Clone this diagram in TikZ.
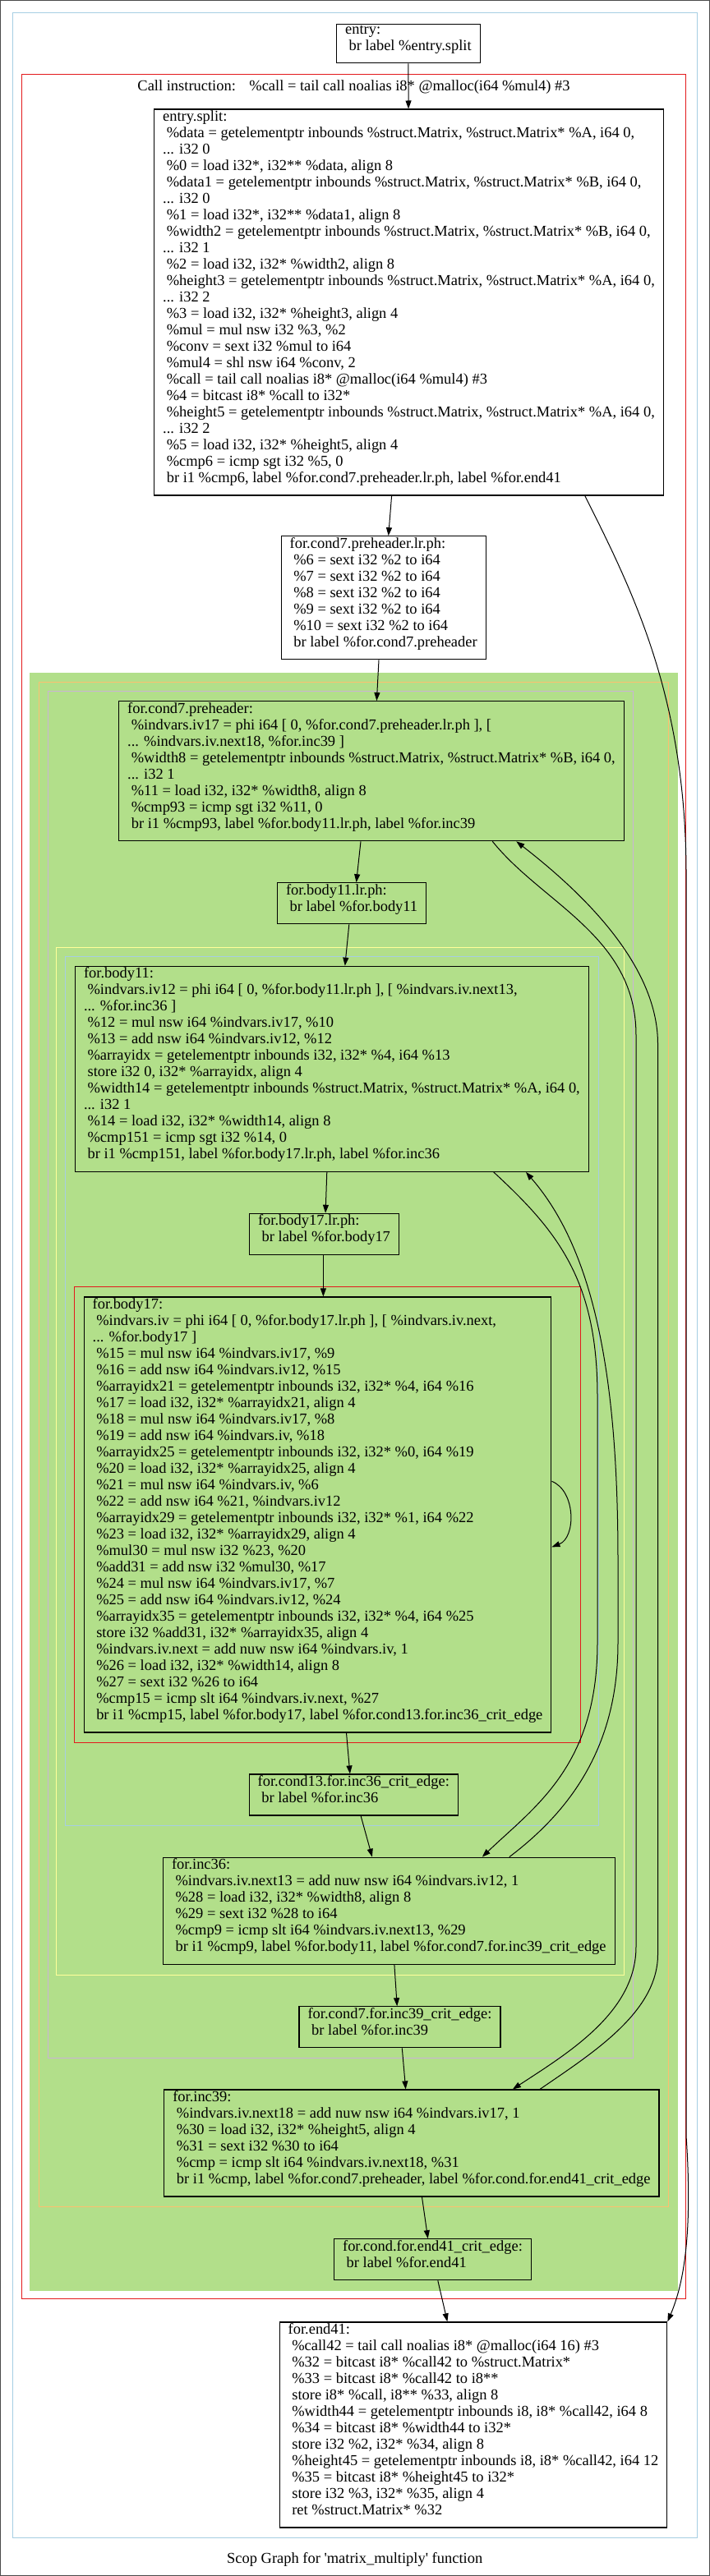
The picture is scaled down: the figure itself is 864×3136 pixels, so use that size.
\documentclass[tikz,border=0pt]{standalone}
\usepackage{fontspec}
\setmainfont{Liberation Serif}
\usetikzlibrary{arrows.meta}
\definecolor{scopblue}{HTML}{A6CEE3}
\definecolor{scopred}{HTML}{E31A1C}
\definecolor{scopgreen}{HTML}{B2DF8A}
\definecolor{scoporange}{HTML}{FDBF6F}
\definecolor{scoplilac}{HTML}{CAB2D6}
\definecolor{scopyellow}{HTML}{FFFF99}
\newcommand{\irfont}{\fontsize{18.45pt}{20pt}\selectfont}
\newcommand{\isp}{\hspace*{0.25em}}
\begin{document}
\begin{tikzpicture}[x=1pt,y=-1pt,
  block/.style={draw,line width=1.2pt,align=left,inner xsep=10.5pt,inner ysep=1.5pt,font=\irfont,
    execute at begin node=\rule{0pt}{14pt},execute at end node=\rule[-14pt]{0pt}{14pt}},
  region/.style={line width=1pt},
  flow/.style={line width=1pt,-{Triangle[length=10pt,width=7pt]}}]
\useasboundingbox (0,0) rectangle (864,3136);
\draw[black!70,line width=1pt] (0.5,0.5) rectangle (863.5,3135.5);
\draw[region,scopblue] (15.4,15.7) rectangle (848.5,3089);
\draw[region,scopred] (26.4,90.3) rectangle (834.7,2798.3);
\filldraw[region,draw=scopgreen,fill=scopgreen] (36.4,819.3) rectangle (824.8,2788.3);
\draw[region,scoporange] (47.9,830) rectangle (813.8,2686.3);
\draw[region,scoplilac] (58.4,841) rectangle (770.2,2505);
\draw[region,scopyellow] (68.9,1153.7) rectangle (759.8,2404);
\draw[region,scopblue] (79.9,1164) rectangle (728.4,2222);
\draw[region,scopred] (90.4,1566.3) rectangle (706.3,2121);

\node (reason) at (430.5,111) [anchor=base,font=\irfont] {Call instruction:\hspace{16.5pt}\%call = tail call noalias i8* @malloc(i64 \%mul4) \#3};
\node (caption) at (431.7,3120) [anchor=base,font=\irfont] {Scop Graph for \textquotesingle matrix\_multiply\textquotesingle{} function};

\node[block] (entry) at (496.9,53.2) {entry:\\ \isp br label \%entry.split};
\node[block] (split) at (497.5,368) {entry.split:\\
\isp\%data = getelementptr inbounds \%struct.Matrix, \%struct.Matrix* \%A, i64 0,\\
... i32 0\\
\isp\%0 = load i32*, i32** \%data, align 8\\
\isp\%data1 = getelementptr inbounds \%struct.Matrix, \%struct.Matrix* \%B, i64 0,\\
... i32 0\\
\isp\%1 = load i32*, i32** \%data1, align 8\\
\isp\%width2 = getelementptr inbounds \%struct.Matrix, \%struct.Matrix* \%B, i64 0,\\
... i32 1\\
\isp\%2 = load i32, i32* \%width2, align 8\\
\isp\%height3 = getelementptr inbounds \%struct.Matrix, \%struct.Matrix* \%A, i64 0,\\
... i32 2\\
\isp\%3 = load i32, i32* \%height3, align 4\\
\isp\%mul = mul nsw i32 \%3, \%2\\
\isp\%conv = sext i32 \%mul to i64\\
\isp\%mul4 = shl nsw i64 \%conv, 2\\
\isp\%call = tail call noalias i8* @malloc(i64 \%mul4) \#3\\
\isp\%4 = bitcast i8* \%call to i32*\\
\isp\%height5 = getelementptr inbounds \%struct.Matrix, \%struct.Matrix* \%A, i64 0,\\
... i32 2\\
\isp\%5 = load i32, i32* \%height5, align 4\\
\isp\%cmp6 = icmp sgt i32 \%5, 0\\
\isp br i1 \%cmp6, label \%for.cond7.preheader.lr.ph, label \%for.end41};
\node[block] (lrph) at (466.7,727.8) {for.cond7.preheader.lr.ph:\\
\isp\%6 = sext i32 \%2 to i64\\
\isp\%7 = sext i32 \%2 to i64\\
\isp\%8 = sext i32 \%2 to i64\\
\isp\%9 = sext i32 \%2 to i64\\
\isp\%10 = sext i32 \%2 to i64\\
\isp br label \%for.cond7.preheader};
\node[block] (cond7) at (452,938.7) {for.cond7.preheader:\\
\isp\%indvars.iv17 = phi i64 [ 0, \%for.cond7.preheader.lr.ph ], [\\
... \%indvars.iv.next18, \%for.inc39 ]\\
\isp\%width8 = getelementptr inbounds \%struct.Matrix, \%struct.Matrix* \%B, i64 0,\\
... i32 1\\
\isp\%11 = load i32, i32* \%width8, align 8\\
\isp\%cmp93 = icmp sgt i32 \%11, 0\\
\isp br i1 \%cmp93, label \%for.body11.lr.ph, label \%for.inc39};
\node[block] (b11lrph) at (428.1,1099.8) {for.body11.lr.ph:\\ \isp br label \%for.body11};
\node[block] (body11) at (403.9,1301.3) {for.body11:\\
\isp\%indvars.iv12 = phi i64 [ 0, \%for.body11.lr.ph ], [ \%indvars.iv.next13,\\
... \%for.inc36 ]\\
\isp\%12 = mul nsw i64 \%indvars.iv17, \%10\\
\isp\%13 = add nsw i64 \%indvars.iv12, \%12\\
\isp\%arrayidx = getelementptr inbounds i32, i32* \%4, i64 \%13\\
\isp store i32 0, i32* \%arrayidx, align 4\\
\isp\%width14 = getelementptr inbounds \%struct.Matrix, \%struct.Matrix* \%A, i64 0,\\
... i32 1\\
\isp\%14 = load i32, i32* \%width14, align 8\\
\isp\%cmp151 = icmp sgt i32 \%14, 0\\
\isp br i1 \%cmp151, label \%for.body17.lr.ph, label \%for.inc36};
\node[block] (b17lrph) at (394.5,1502.3) {for.body17.lr.ph:\\ \isp br label \%for.body17};
\node[block] (body17) at (386.5,1844) {for.body17:\\
\isp\%indvars.iv = phi i64 [ 0, \%for.body17.lr.ph ], [ \%indvars.iv.next,\\
... \%for.body17 ]\\
\isp\%15 = mul nsw i64 \%indvars.iv17, \%9\\
\isp\%16 = add nsw i64 \%indvars.iv12, \%15\\
\isp\%arrayidx21 = getelementptr inbounds i32, i32* \%4, i64 \%16\\
\isp\%17 = load i32, i32* \%arrayidx21, align 4\\
\isp\%18 = mul nsw i64 \%indvars.iv17, \%8\\
\isp\%19 = add nsw i64 \%indvars.iv, \%18\\
\isp\%arrayidx25 = getelementptr inbounds i32, i32* \%0, i64 \%19\\
\isp\%20 = load i32, i32* \%arrayidx25, align 4\\
\isp\%21 = mul nsw i64 \%indvars.iv, \%6\\
\isp\%22 = add nsw i64 \%21, \%indvars.iv12\\
\isp\%arrayidx29 = getelementptr inbounds i32, i32* \%1, i64 \%22\\
\isp\%23 = load i32, i32* \%arrayidx29, align 4\\
\isp\%mul30 = mul nsw i32 \%23, \%20\\
\isp\%add31 = add nsw i32 \%mul30, \%17\\
\isp\%24 = mul nsw i64 \%indvars.iv17, \%7\\
\isp\%25 = add nsw i64 \%indvars.iv12, \%24\\
\isp\%arrayidx35 = getelementptr inbounds i32, i32* \%4, i64 \%25\\
\isp store i32 \%add31, i32* \%arrayidx35, align 4\\
\isp\%indvars.iv.next = add nuw nsw i64 \%indvars.iv, 1\\
\isp\%26 = load i32, i32* \%width14, align 8\\
\isp\%27 = sext i32 \%26 to i64\\
\isp\%cmp15 = icmp slt i64 \%indvars.iv.next, \%27\\
\isp br i1 \%cmp15, label \%for.body17, label \%for.cond13.for.inc36\_crit\_edge};
\node[block] (crit36) at (430.3,2185) {for.cond13.for.inc36\_crit\_edge:\\ \isp br label \%for.inc36};
\node[block] (inc36) at (473.3,2326.2) {for.inc36:\\
\isp\%indvars.iv.next13 = add nuw nsw i64 \%indvars.iv12, 1\\
\isp\%28 = load i32, i32* \%width8, align 8\\
\isp\%29 = sext i32 \%28 to i64\\
\isp\%cmp9 = icmp slt i64 \%indvars.iv.next13, \%29\\
\isp br i1 \%cmp9, label \%for.body11, label \%for.cond7.for.inc39\_crit\_edge};
\node[block] (crit39) at (486.5,2467.8) {for.cond7.for.inc39\_crit\_edge:\\ \isp br label \%for.inc39};
\node[block] (inc39) at (500.9,2609) {for.inc39:\\
\isp\%indvars.iv.next18 = add nuw nsw i64 \%indvars.iv17, 1\\
\isp\%30 = load i32, i32* \%height5, align 4\\
\isp\%31 = sext i32 \%30 to i64\\
\isp\%cmp = icmp slt i64 \%indvars.iv.next18, \%31\\
\isp br i1 \%cmp, label \%for.cond7.preheader, label \%for.cond.for.end41\_crit\_edge};
\node[block] (crit41) at (526.5,2750.7) {for.cond.for.end41\_crit\_edge:\\ \isp br label \%for.end41};
\node[block] (end41) at (576,2951.9) {for.end41:\\
\isp\%call42 = tail call noalias i8* @malloc(i64 16) \#3\\
\isp\%32 = bitcast i8* \%call42 to \%struct.Matrix*\\
\isp\%33 = bitcast i8* \%call42 to i8**\\
\isp store i8* \%call, i8** \%33, align 8\\
\isp\%width44 = getelementptr inbounds i8, i8* \%call42, i64 8\\
\isp\%34 = bitcast i8* \%width44 to i32*\\
\isp store i32 \%2, i32* \%34, align 8\\
\isp\%height45 = getelementptr inbounds i8, i8* \%call42, i64 12\\
\isp\%35 = bitcast i8* \%height45 to i32*\\
\isp store i32 \%3, i32* \%35, align 4\\
\isp ret \%struct.Matrix* \%32};

\draw[flow] (entry) -- (split);
\draw[flow] ([xshift=-20.9pt]split.south) -- ([xshift=6pt]lrph.north);
\draw[flow] ([xshift=214.3pt]split.south) .. controls (770,720) and (836,850) .. (835,1070) -- (835,2600) .. controls (843,2720) and (832,2780) .. (end41.north east);
\draw[flow] ([xshift=-5.7pt]lrph.south) -- ([xshift=6.4pt]cond7.north);
\draw[flow] ([xshift=-13pt]cond7.south) -- ([xshift=5.5pt]b11lrph.north);
\draw[flow] ([xshift=147.3pt]cond7.south) .. controls (660,1100) and (774,1140) .. (774,1260) -- (774,2370) .. controls (774,2450) and (690,2500) .. ([xshift=123pt]inc39.north);
\draw[flow] ([xshift=156.1pt]inc39.north) .. controls (720,2500) and (800,2450) .. (800.5,2380) -- (800.5,1270) .. controls (800,1170) and (700,1080) .. ([xshift=176.3pt]cond7.south);
\draw[flow] ([xshift=-3.3pt]b11lrph.south) -- ([xshift=15.9pt]body11.north);
\draw[flow] ([xshift=-6.1pt]body11.south) -- ([xshift=1.6pt]b17lrph.north);
\draw[flow] ([xshift=196.8pt]body11.south) .. controls (680,1500) and (727,1560) .. (727,1700) -- (727,2000) .. controls (727,2150) and (650,2200) .. ([xshift=113.5pt]inc36.north);
\draw[flow] ([xshift=146.5pt]inc36.north) .. controls (700,2200) and (752,2120) .. (752,2000) -- (752,1900) .. controls (752,1700) and (730,1530) .. ([xshift=236.1pt]body11.south);
\draw[flow] ([xshift=-1.1pt]b17lrph.south) -- ([xshift=6.9pt]body17.north);
\draw[flow] ([yshift=40.7pt]body17.east) .. controls (701,1815) and (701,1872) .. ([yshift=-39.3pt]body17.east);
\draw[flow] ([xshift=35pt]body17.south) -- ([xshift=-4.4pt]crit36.north);
\draw[flow] ([xshift=8.8pt]crit36.south) -- ([xshift=-20.4pt]inc36.north);
\draw[flow] ([xshift=6.6pt]inc36.south) -- ([xshift=-3.3pt]crit39.north);
\draw[flow] ([xshift=2.8pt]crit39.south) -- ([xshift=-7.2pt]inc39.north);
\draw[flow] ([xshift=12.6pt]inc39.south) -- ([xshift=-5.8pt]crit41.north);
\draw[flow] ([xshift=6.3pt]crit41.south) -- ([xshift=-31.6pt]end41.north);
\end{tikzpicture}
\end{document}
